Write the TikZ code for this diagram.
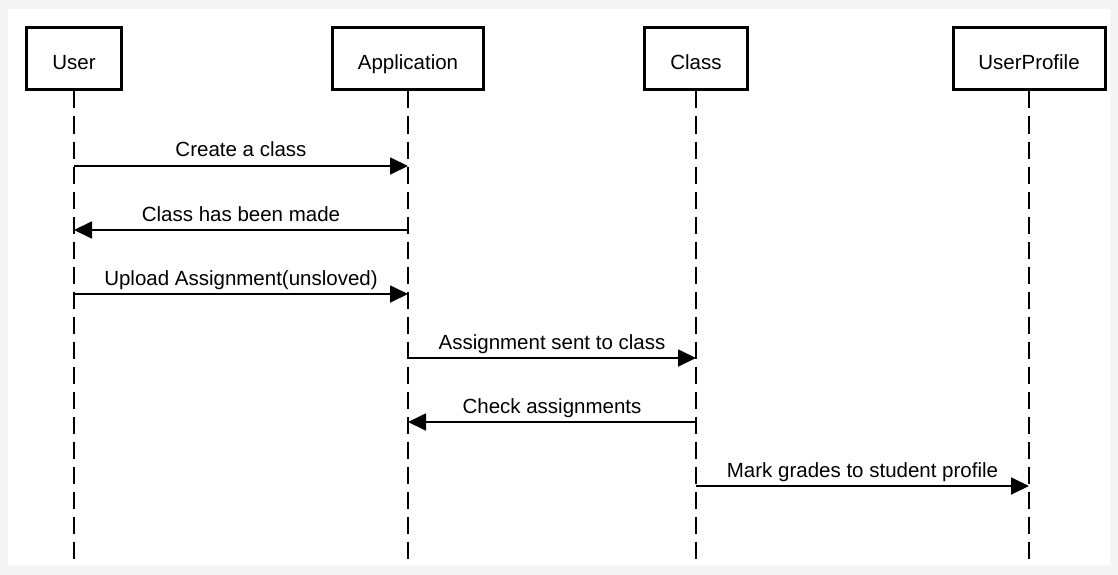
\documentclass[tikz,border=0pt]{standalone}
\usepackage{fontspec}
\setmainfont{Liberation Sans}
\usetikzlibrary{arrows.meta,calc}
\tikzset{
  actor/.style={draw=black, line width=3pt, fill=white, minimum height=62pt, inner sep=0pt, text height=21pt, text depth=0pt, font=\fontsize{20.5}{24}\selectfont},
  life/.style={draw=black, line width=2pt, dash pattern=on 17pt off 8pt},
  msg/.style={draw=black, line width=1.8pt, -{Triangle[length=18pt,width=17pt]}},
  lbl/.style={font=\fontsize{20.5}{24}\selectfont, anchor=base, inner sep=0pt}
}
\begin{document}
\begin{tikzpicture}[x=1pt,y=-1pt]
\useasboundingbox (0,0) rectangle (1118,575);
\fill[black!4] (0,0) rectangle (1118,575);
\fill[white] (8,9) rectangle (1110,565);
% actors
\node[actor, minimum width=95pt] (user) at (74,59) {User};
\node[actor, minimum width=151pt] (app) at (408,59) {Application};
\node[actor, minimum width=103pt] (cls) at (696,59) {Class};
\node[actor, minimum width=152pt] (prof) at (1029,59) {UserProfile};
% lifeline ends
\coordinate (userE) at (74,565);
\coordinate (appE) at (408,565);
\coordinate (clsE) at (696,565);
\coordinate (profE) at (1029,565);
\draw[life] (user.south) -- (userE);
\draw[life] (app.south) -- (appE);
\draw[life] (cls.south) -- (clsE);
\draw[life] (prof.south) -- (profE);
% message points
\foreach \n/\y in {1/166,2/230,3/294,4/358,5/422,6/486}{
  \coordinate (u\n) at (74,\y);
  \coordinate (a\n) at (408,\y);
  \coordinate (c\n) at (696,\y);
  \coordinate (p\n) at (1029,\y);
}
\draw[msg] (u1) -- (a1);
\node[lbl] (l1) at ($(u1)!0.5!(a1)+(0,-9)$) {Create a class};
\draw[msg] (a2) -- (u2);
\node[lbl] (l2) at ($(u2)!0.5!(a2)+(0,-9)$) {Class has been made};
\draw[msg] (u3) -- (a3);
\node[lbl] (l3) at ($(u3)!0.5!(a3)+(0,-9)$) {Upload Assignment(unsloved)};
\draw[msg] (a4) -- (c4);
\node[lbl] (l4) at ($(a4)!0.5!(c4)+(0,-9)$) {Assignment sent to class};
\draw[msg] (c5) -- (a5);
\node[lbl] (l5) at ($(a5)!0.5!(c5)+(0,-9)$) {Check assignments};
\draw[msg] (c6) -- (p6);
\node[lbl] (l6) at ($(c6)!0.5!(p6)+(0,-9)$) {Mark grades to student profile};
\end{tikzpicture}
\end{document}
